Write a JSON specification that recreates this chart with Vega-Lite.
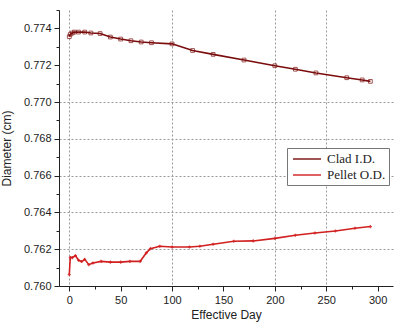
{
  "$schema": "https://vega.github.io/schema/vega-lite/v6.json",
  "width": 334,
  "height": 276,
  "autosize": "none",
  "padding": {"left": 59, "top": 10, "right": 1, "bottom": 38},
  "background": "white",
  "config": {
    "view": {"stroke": null},
    "axis": {"labelFont": "Liberation Sans", "titleFont": "Liberation Sans", "labelColor": "#222", "titleColor": "#222", "domainColor": "#222", "tickColor": "#222", "labelFontSize": 11, "titleFontSize": 12, "titleFontWeight": "normal", "gridColor": "#999999", "gridDash": [2, 2], "gridWidth": 1}
  },
  "data": {"values": [
    {"day": 0, "value": 0.77355, "series": "Clad I.D."},
    {"day": 1, "value": 0.77368, "series": "Clad I.D."},
    {"day": 3, "value": 0.77375, "series": "Clad I.D."},
    {"day": 5, "value": 0.7738, "series": "Clad I.D."},
    {"day": 9, "value": 0.7738, "series": "Clad I.D."},
    {"day": 15, "value": 0.7738, "series": "Clad I.D."},
    {"day": 21, "value": 0.77375, "series": "Clad I.D."},
    {"day": 30, "value": 0.77372, "series": "Clad I.D."},
    {"day": 40, "value": 0.77353, "series": "Clad I.D."},
    {"day": 50, "value": 0.77342, "series": "Clad I.D."},
    {"day": 60, "value": 0.77333, "series": "Clad I.D."},
    {"day": 70, "value": 0.77326, "series": "Clad I.D."},
    {"day": 80, "value": 0.77322, "series": "Clad I.D."},
    {"day": 100, "value": 0.77316, "series": "Clad I.D."},
    {"day": 120, "value": 0.7728, "series": "Clad I.D."},
    {"day": 140, "value": 0.77259, "series": "Clad I.D."},
    {"day": 170, "value": 0.77228, "series": "Clad I.D."},
    {"day": 200, "value": 0.77197, "series": "Clad I.D."},
    {"day": 220, "value": 0.77178, "series": "Clad I.D."},
    {"day": 240, "value": 0.77158, "series": "Clad I.D."},
    {"day": 270, "value": 0.77132, "series": "Clad I.D."},
    {"day": 285, "value": 0.7712, "series": "Clad I.D."},
    {"day": 293, "value": 0.77112, "series": "Clad I.D."},
    {"day": 0, "value": 0.76062, "series": "Pellet O.D."},
    {"day": 1, "value": 0.76155, "series": "Pellet O.D."},
    {"day": 3, "value": 0.76154, "series": "Pellet O.D."},
    {"day": 6, "value": 0.76165, "series": "Pellet O.D."},
    {"day": 9, "value": 0.7614, "series": "Pellet O.D."},
    {"day": 12, "value": 0.76133, "series": "Pellet O.D."},
    {"day": 15, "value": 0.76145, "series": "Pellet O.D."},
    {"day": 19, "value": 0.76116, "series": "Pellet O.D."},
    {"day": 23, "value": 0.76125, "series": "Pellet O.D."},
    {"day": 31, "value": 0.76134, "series": "Pellet O.D."},
    {"day": 40, "value": 0.7613, "series": "Pellet O.D."},
    {"day": 50, "value": 0.7613, "series": "Pellet O.D."},
    {"day": 59, "value": 0.76134, "series": "Pellet O.D."},
    {"day": 69, "value": 0.76134, "series": "Pellet O.D."},
    {"day": 75, "value": 0.7618, "series": "Pellet O.D."},
    {"day": 79, "value": 0.76203, "series": "Pellet O.D."},
    {"day": 88, "value": 0.76216, "series": "Pellet O.D."},
    {"day": 100, "value": 0.76212, "series": "Pellet O.D."},
    {"day": 117, "value": 0.76212, "series": "Pellet O.D."},
    {"day": 127, "value": 0.76216, "series": "Pellet O.D."},
    {"day": 140, "value": 0.76227, "series": "Pellet O.D."},
    {"day": 160, "value": 0.76243, "series": "Pellet O.D."},
    {"day": 179, "value": 0.76245, "series": "Pellet O.D."},
    {"day": 200, "value": 0.76259, "series": "Pellet O.D."},
    {"day": 220, "value": 0.76276, "series": "Pellet O.D."},
    {"day": 239, "value": 0.76288, "series": "Pellet O.D."},
    {"day": 259, "value": 0.76299, "series": "Pellet O.D."},
    {"day": 278, "value": 0.76314, "series": "Pellet O.D."},
    {"day": 293, "value": 0.76323, "series": "Pellet O.D."}
  ]},
  "encoding": {
    "x": {"field": "day", "type": "quantitative", "title": "Effective Day",
      "scale": {"domain": [-10, 315], "nice": false, "zero": false},
      "axis": {"values": [0, 25, 50, 75, 100, 125, 150, 175, 200, 225, 250, 275, 300],
        "labelExpr": "datum.value % 50 == 0 ? datum.label : ''",
        "tickSize": {"condition": {"test": "datum.value % 50 == 0", "value": 5}, "value": 3},
        "grid": true,
        "gridOpacity": {"condition": {"test": "datum.value == 0 || datum.value == 100 || datum.value == 200 || datum.value == 250", "value": 1}, "value": 0},
        "labelPadding": 3, "titlePadding": 4}},
    "y": {"field": "value", "type": "quantitative", "title": "Diameter (cm)",
      "scale": {"domain": [0.76, 0.775], "nice": false, "zero": false},
      "axis": {"values": [0.760, 0.761, 0.762, 0.763, 0.764, 0.765, 0.766, 0.767, 0.768, 0.769, 0.770, 0.771, 0.772, 0.773, 0.774, 0.775],
        "labelExpr": "round(datum.value * 1000) % 2 == 0 && datum.value < 0.7745 ? format(datum.value, '.3f') : ''",
        "tickSize": {"condition": {"test": "round(datum.value * 1000) % 2 == 0 && datum.value < 0.7745", "value": 5}, "value": 3},
        "grid": true,
        "gridOpacity": {"condition": {"test": "datum.value > 0.7615 && datum.value < 0.7705 && round(datum.value * 1000) % 2 == 0", "value": 1}, "value": 0},
        "labelPadding": 3, "titlePadding": 10}},
    "color": {"field": "series", "type": "nominal",
      "scale": {"domain": ["Clad I.D.", "Pellet O.D."], "range": ["#7a0c0c", "#d21f1f"]},
      "legend": {"title": null, "orient": "none", "legendX": 228, "legendY": 138, "symbolType": "M-2,0H2", "symbolSize": 196, "symbolStrokeWidth": 2, "symbolOffset": 9, "labelOffset": 12, "labelFont": "Liberation Serif", "labelFontSize": 13, "labelColor": "#222", "strokeColor": "#777", "fillColor": "white", "padding": 3, "rowPadding": 1}}
  },
  "layer": [
    {"mark": {"type": "line", "strokeWidth": 1.6}},
    {"mark": {"type": "point", "shape": "square", "size": 14, "filled": false, "strokeWidth": 1}, "transform": [{"filter": "datum.series == 'Clad I.D.'"}]},
    {"mark": {"type": "point", "shape": "cross", "size": 10, "filled": true, "opacity": 0.8}, "transform": [{"filter": "datum.series == 'Pellet O.D.'"}]}
  ]
}
